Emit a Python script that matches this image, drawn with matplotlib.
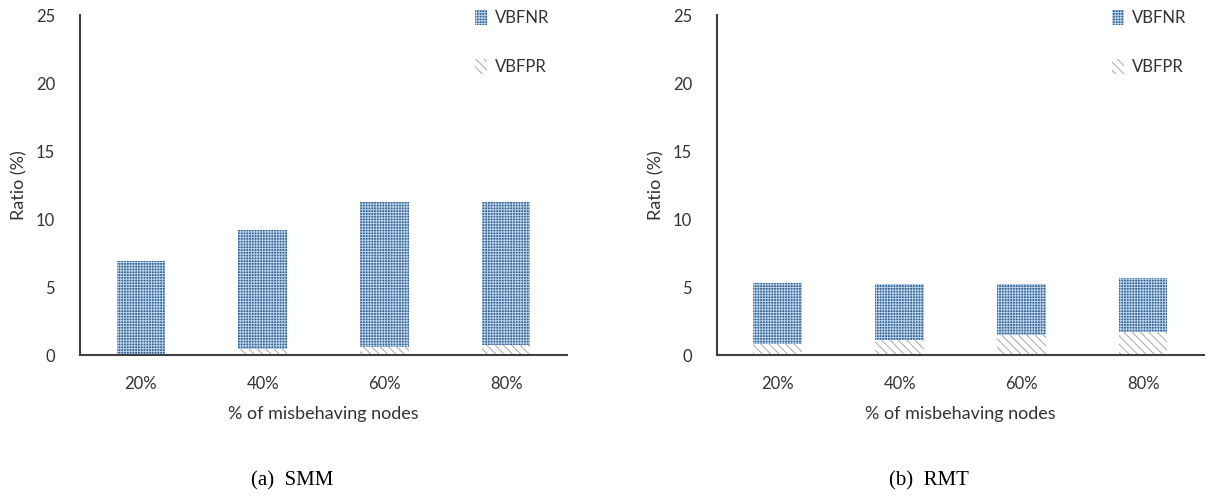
import matplotlib.pyplot as plt
from matplotlib.patches import Patch
import numpy as np

plt.rcParams['font.family'] = ['Lato', 'DejaVu Sans']
plt.rcParams['hatch.linewidth'] = 0.7

# Данные
categories = ['20%', '40%', '60%', '80%']
smm_fpr = [0.1, 0.42, 0.61, 0.72]
smm_fnr = [6.85, 8.75, 10.65, 10.54]
rmt_fpr = [0.79, 1.1, 1.47, 1.72]
rmt_fnr = [4.54, 4.11, 3.74, 3.93]
captions = ['(a)  SMM', '(b)  RMT']

blue = '#2f6497'
dots = '#bcd0e6'
grey = '#a8a8a8'
fnr_hatch = '++++++'
fpr_hatch = '\\\\\\\\'


def draw_panel(ax, fpr, fnr, caption):
    x = np.arange(len(categories))
    ax.bar(x, fpr, width=0.4, color='white', edgecolor=grey, hatch=fpr_hatch, linewidth=0)
    ax.bar(x, fnr, width=0.4, bottom=fpr, color=blue, edgecolor=dots, hatch=fnr_hatch, linewidth=0)
    ax.set_xlim(-0.5, 3.5)
    ax.set_ylim(0, 25)
    ax.set_yticks(range(0, 26, 5))
    ax.set_xticks(x)
    ax.set_xticklabels(categories)
    ax.tick_params(length=0, labelsize=12, colors='#333333')
    ax.tick_params(axis='y', pad=18)
    ax.tick_params(axis='x', pad=15)
    for side in ['top', 'right']:
        ax.spines[side].set_visible(False)
    for side in ['left', 'bottom']:
        ax.spines[side].set_color('#404040')
        ax.spines[side].set_linewidth(1.5)
    ax.set_ylabel('Ratio (%)', fontsize=13, color='#333333', labelpad=6)
    ax.set_xlabel('% of misbehaving nodes', fontsize=13, color='#333333', labelpad=10)

    handles = [
        Patch(facecolor=blue, edgecolor=dots, hatch=fnr_hatch, linewidth=0),
        Patch(facecolor='white', edgecolor=grey, hatch=fpr_hatch, linewidth=0),
    ]
    ax.legend(handles, ['VBFNR', 'VBFPR'], loc='upper right', bbox_to_anchor=(0.995, 1.06),
              frameon=False, fontsize=12, handlelength=0.7, handleheight=1.0,
              handletextpad=0.5, labelspacing=2.0, labelcolor='#333333')
    ax.text(0.435, -0.37, caption, transform=ax.transAxes, ha='center', va='center',
            fontsize=15, family='Liberation Serif')


fig = plt.figure(figsize=(12.16, 4.97), dpi=100)
ax1 = fig.add_axes([0.0658, 0.2857, 0.4005, 0.684])
ax2 = fig.add_axes([0.5896, 0.2857, 0.4005, 0.684])

draw_panel(ax1, smm_fpr, smm_fnr, captions[0])
draw_panel(ax2, rmt_fpr, rmt_fnr, captions[1])

fig.savefig('out.png', dpi=100)
